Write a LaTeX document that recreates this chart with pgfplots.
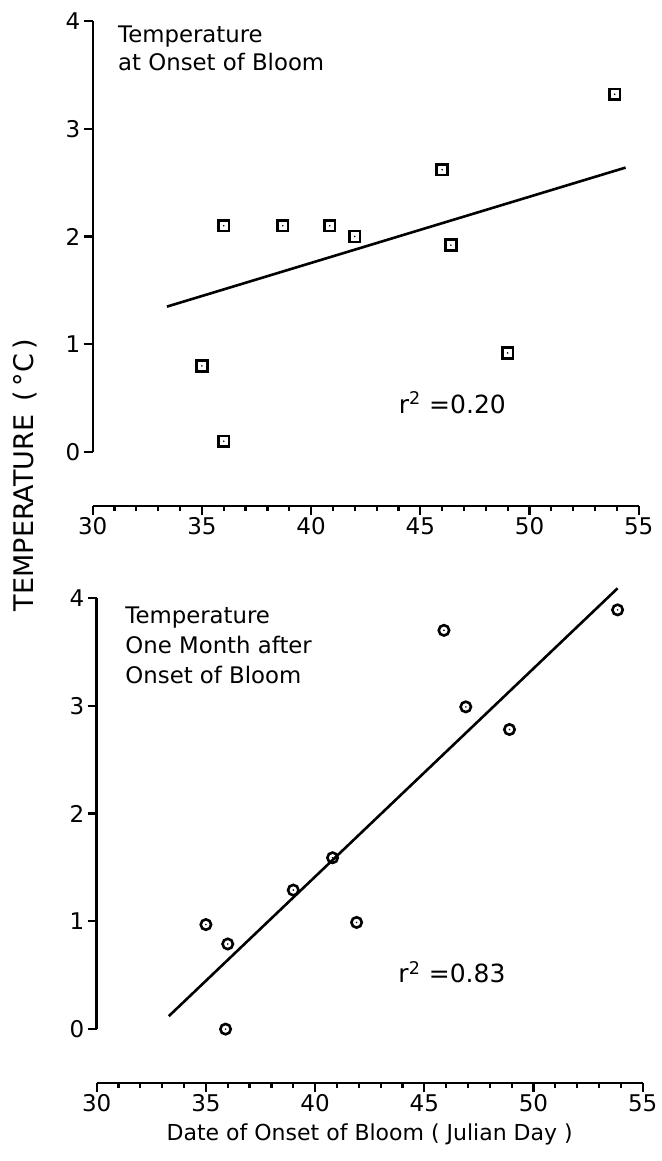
\documentclass[border=0pt]{standalone}
\usepackage{fontspec}
\setmainfont{DejaVu Sans}
\usepackage{pgfplots}
\pgfplotsset{compat=1.18}

% square / circle with a dot in the middle, as in the figure
\pgfdeclareplotmark{sqdot}{%
  \pgfpathrectangle{\pgfpoint{-\pgfplotmarksize}{-\pgfplotmarksize}}{\pgfpoint{2\pgfplotmarksize}{2\pgfplotmarksize}}%
  \pgfusepathqstroke
  \pgfpathcircle{\pgfpointorigin}{0.45pt}\pgfusepathqfill}
\pgfdeclareplotmark{cidot}{%
  \pgfpathcircle{\pgfpointorigin}{\pgfplotmarksize}\pgfusepathqstroke
  \pgfpathcircle{\pgfpointorigin}{0.45pt}\pgfusepathqfill}

\pgfplotsset{
  bloom/.style={
    scale only axis,
    width=273pt, height=242.5pt,
    xmin=30, xmax=55, ymin=-0.5, ymax=4,
    axis lines*=left,
    separate axis lines,
    y axis line style={line width=1.2pt, shorten <=26.95pt},
    x axis line style={line width=1.2pt},
    xtick={30,35,...,55}, minor x tick num=4,
    ytick={0,1,2,3,4},
    tick align=outside,
    major tick length=4.5pt, minor tick length=2.5pt,
    every tick/.style={black, line width=1.1pt},
    /pgf/number format/assume math mode=true,
    tick label style={font=\fontsize{11.5}{13}\selectfont},
    xticklabel style={inner sep=1pt},
    yticklabel style={inner sep=1.5pt},
    clip=false,
  },
}

\begin{document}
\begin{tikzpicture}
\useasboundingbox (-46.35pt,-327.5pt) rectangle (284.65pt,253pt);

% upper panel
\begin{axis}[bloom, at={(0pt,0pt)}, anchor=south west]
\addplot[only marks, mark=sqdot, mark size=2.7pt, mark options={line width=1.3pt}]
  coordinates {
  (35,0.8) (36,0.1) (36,2.1) (38.7,2.1) (40.85,2.1) (42,2.0)
  (46,2.62) (46.4,1.92) (49,0.92) (53.9,3.32)
};
\addplot[no marks, line width=1.3pt] coordinates {(33.4,1.35) (54.4,2.64)};
\node[anchor=north west, inner sep=0pt, align=left,
      font=\fontsize{11.4}{14}\selectfont] at (axis cs:31.15,3.96)
  {Temperature\\at Onset of Bloom};
\node[anchor=base west, inner sep=0pt, font=\fontsize{12.5}{14}\selectfont]
  at (axis cs:44.0,0.36) {r\textsuperscript{2} =0.20};
\end{axis}

% lower panel
\begin{axis}[bloom, at={(2pt,-288.5pt)}, anchor=south west,
  xlabel={Date of Onset of Bloom ( Julian Day )},
  xlabel style={font=\fontsize{11}{13}\selectfont, inner sep=2pt, yshift=-3pt}]
\addplot[only marks, mark=cidot, mark size=2.6pt, mark options={line width=1.3pt}]
  coordinates {
  (35,0.97) (36,0.79) (35.9,0.0) (39,1.29) (40.8,1.59) (41.9,0.99)
  (45.9,3.70) (46.9,2.99) (48.9,2.78) (53.85,3.89)
};
\addplot[no marks, line width=1.3pt] coordinates {(33.3,0.12) (53.85,4.09)};
\node[anchor=north west, inner sep=0pt, align=left,
      font=\fontsize{11.4}{15}\selectfont] at (axis cs:31.3,3.92)
  {Temperature\\One Month after\\Onset of Bloom};
\node[anchor=base west, inner sep=0pt, font=\fontsize{12.5}{14}\selectfont]
  at (axis cs:43.8,0.43) {r\textsuperscript{2} =0.83};
\end{axis}

\node[rotate=90, font=\fontsize{13.5}{15}\selectfont] at (-33.85pt,15.5pt)
  {TEMPERATURE\enspace(\,°C\,)};
\end{tikzpicture}
\end{document}
